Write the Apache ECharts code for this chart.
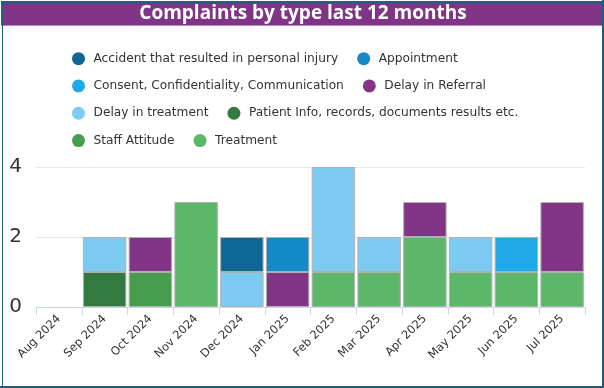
<!DOCTYPE html>
<html>
<head>
<meta charset="utf-8">
<script src="https://cdn.jsdelivr.net/npm/echarts@6/dist/echarts.min.js"></script>
<style>
html,body{margin:0;padding:0;background:#fff;}
#chart{width:604px;height:388px;}
</style>
</head>
<body>
<div id="chart"></div>
<script>
var titleText = 'Complaints by type last 12 months';
var months = ['Aug 2024','Sep 2024','Oct 2024','Nov 2024','Dec 2024','Jan 2025','Feb 2025','Mar 2025','Apr 2025','May 2025','Jun 2025','Jul 2025'];
var yTicks = [0, 2, 4];

var accident      = [0,0,0,0,1,0,0,0,0,0,0,0];
var appointment   = [0,0,0,0,0,1,0,0,0,0,0,0];
var consent       = [0,0,0,0,0,0,0,0,0,0,1,0];
var delayReferral = [0,0,1,0,0,1,0,0,1,0,0,2];
var delayTreatment= [0,1,0,0,1,0,3,1,0,1,0,0];
var patientInfo   = [0,1,0,0,0,0,0,0,0,0,0,0];
var staffAttitude = [0,0,1,0,0,0,0,0,0,0,0,0];
var treatment     = [0,0,0,3,0,0,1,1,2,1,1,1];

var seriesNames = ['Accident that resulted in personal injury','Appointment','Consent, Confidentiality, Communication','Delay in Referral','Delay in treatment','Patient Info, records, documents results etc.','Staff Attitude','Treatment'];
var seriesValues = [accident, appointment, consent, delayReferral, delayTreatment, patientInfo, staffAttitude, treatment];
var seriesColors = ['#0e6796','#1389c8','#1fa9e9','#823586','#7dcbf2','#327a3f','#459d4d','#5cb868'];

var chart = echarts.init(document.getElementById('chart'));

var series = [];
for (var i = seriesNames.length - 1; i >= 0; i--) {
  series.push({
    name: seriesNames[i],
    type: 'bar',
    stack: 'total',
    barCategoryGap: '5%',
    data: seriesValues[i].map(function (v) { return v === 0 ? '-' : v; }),
    itemStyle: { color: seriesColors[i], borderColor: '#b0b0b0', borderWidth: 1 },
    emphasis: { disabled: true }
  });
}

chart.setOption({
  animation: false,
  textStyle: { fontFamily: 'DejaVu Sans' },
  color: seriesColors.slice().reverse(),
  graphic: [
    { type: 'rect', left: 0, top: 0, shape: { width: 604, height: 388 }, style: { fill: '#fff' }, z: -10, silent: true },
    { type: 'rect', left: 1, top: 1, shape: { width: 601, height: 24 }, style: { fill: '#7f3486' }, silent: true },
    { type: 'rect', left: 1, top: 25, shape: { width: 601, height: 1 }, style: { fill: '#b48abb' }, silent: true },
    { type: 'text', x: 303, y: 14, style: { text: titleText, fill: '#ffffff', font: 'bold 19px "Open Sans"', textAlign: 'center', textVerticalAlign: 'middle' }, silent: true },
    { type: 'rect', left: 0, top: 0, shape: { width: 603, height: 387 }, style: { fill: null, stroke: '#1d5c7d', lineWidth: 1 }, silent: true },
    { type: 'rect', left: 602, top: 0, shape: { width: 2, height: 388 }, style: { fill: '#1d5c7d' }, silent: true },
    { type: 'rect', left: 0, top: 386, shape: { width: 604, height: 2 }, style: { fill: '#1d5c7d' }, silent: true }
  ],
  legend: {
    data: seriesNames,
    left: 72,
    top: 51.5,
    width: 500,
    padding: 0,
    itemWidth: 16,
    itemHeight: 13,
    itemGap: 13,
    icon: 'circle',
    itemStyle: { borderWidth: 0 },
    textStyle: { fontSize: 12.2, lineHeight: 14.3, color: '#333333', fontFamily: 'DejaVu Sans', padding: [0, 6, 0, 2] },
    selectedMode: false
  },
  grid: { left: 36, right: 19, top: 167, bottom: 81, containLabel: false },
  xAxis: {
    type: 'category',
    data: months,
    axisLine: { lineStyle: { color: '#ccd6eb' } },
    axisTick: { show: true, length: 8, lineStyle: { color: '#ccd6eb' } },
    axisLabel: { rotate: 45, fontSize: 11.5, color: '#333333', margin: 10, interval: 0, fontFamily: 'DejaVu Sans' }
  },
  yAxis: {
    type: 'value',
    min: yTicks[0],
    max: yTicks[yTicks.length - 1],
    interval: yTicks[1] - yTicks[0],
    axisLine: { show: false },
    axisTick: { show: false },
    splitLine: { lineStyle: { color: '#e6e6e6' } },
    axisLabel: { fontSize: 20, color: '#333333', margin: 14, fontFamily: 'DejaVu Sans' }
  },
  series: series
});
</script>
</body>
</html>
